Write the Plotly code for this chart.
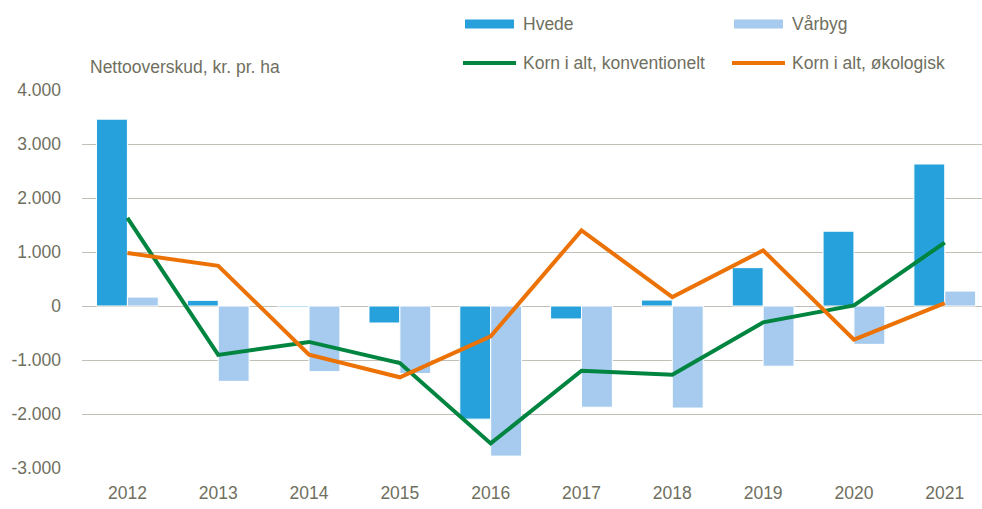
import plotly.graph_objects as go

years = ["2012", "2013", "2014", "2015", "2016", "2017", "2018", "2019", "2020", "2021"]
hvede = [3460, 105, -20, -315, -2095, -240, 110, 710, 1385, 2630]
vaarbyg = [165, -1395, -1215, -1250, -2780, -1875, -1890, -1115, -710, 277]
konv = [1630, -906, -665, -1055, -2545, -1200, -1275, -303, 10, 1175]
oeko = [980, 745, -900, -1320, -560, 1400, 165, 1030, -623, 55]

y_tickvals = [-3000, -2000, -1000, 0, 1000, 2000, 3000, 4000]
y_ticktext = ["-3.000", "-2.000", "-1.000", "0", "1.000", "2.000", "3.000", "4.000"]

names = ["Hvede", "Vårbyg", "Korn i alt, konventionelt", "Korn i alt, økologisk"]
colors = ["#26a1db", "#a6cbee", "#008540", "#ec7205"]
ytitle = "Nettooverskud, kr. pr. ha"

FONT = "Liberation Sans, Arial, sans-serif"
TXT = "#6f6f60"
FS = 17.5

fig = go.Figure()
fig.add_trace(go.Bar(x=years, y=hvede, name=names[0], marker=dict(color=colors[0], line=dict(color="white", width=1))))
fig.add_trace(go.Bar(x=years, y=vaarbyg, name=names[1], marker=dict(color=colors[1], line=dict(color="white", width=1))))
fig.add_trace(go.Scatter(x=years, y=konv, name=names[2], mode="lines", line=dict(color=colors[2], width=4)))
fig.add_trace(go.Scatter(x=years, y=oeko, name=names[3], mode="lines", line=dict(color=colors[3], width=4)))

L, R, T, B = 82, 0, 90, 41
W, H = 982, 509
pw = W - L - R
ph = H - T - B

def px(x):
    return (x - L) / pw

def py(y):
    return (H - B - y) / ph

shapes = []
annotations = []
# custom legend
leg = [
    (465, 514, 24, "rect", 0, 521),
    (734, 783, 24, "rect", 1, 790),
    (463, 516, 63, "line", 2, 521),
    (732, 785, 63, "line", 3, 790),
]
for x0, x1, yc, kind, i, tx in leg:
    if kind == "rect":
        shapes.append(dict(type="rect", xref="paper", yref="paper", x0=px(x0), x1=px(x1),
                           y0=py(yc + 4.5), y1=py(yc - 4.5), fillcolor=colors[i], line=dict(width=0)))
    else:
        shapes.append(dict(type="line", xref="paper", yref="paper", x0=px(x0), x1=px(x1),
                           y0=py(yc), y1=py(yc), line=dict(color=colors[i], width=4)))
    annotations.append(dict(xref="paper", yref="paper", x=px(tx), y=py(yc), xanchor="left", yanchor="middle",
                            text=names[i], showarrow=False, font=dict(family=FONT, size=FS, color=TXT)))

annotations.append(dict(xref="paper", yref="paper", x=px(88), y=py(67), xanchor="left", yanchor="middle",
                        text=ytitle, showarrow=False, font=dict(family=FONT, size=FS, color=TXT)))

fig.update_layout(
    width=W, height=H,
    margin=dict(l=L, r=R, t=T, b=B, pad=0),
    plot_bgcolor="white", paper_bgcolor="white",
    barmode="group", bargap=0.32, bargroupgap=0,
    showlegend=False,
    shapes=shapes, annotations=annotations,
    font=dict(family=FONT, size=FS, color=TXT),
)
fig.update_xaxes(type="category", range=[-0.5, 9.41], showgrid=False, showline=False, zeroline=False,
                 ticks="", ticklabelstandoff=12, tickfont=dict(family=FONT, size=FS, color=TXT))
fig.update_yaxes(range=[-3000, 4000], tickvals=y_tickvals, ticktext=y_ticktext, showgrid=True,
                 gridcolor="#c2c0b6", gridwidth=1.3, zeroline=True, zerolinecolor="#c2c0b6", zerolinewidth=1.3,
                 showline=False, ticks="", ticklabelstandoff=20, tickfont=dict(family=FONT, size=FS, color=TXT))

fig.write_html("out.html", config={"displayModeBar": False},
               post_script="document.body.style.margin='0';document.body.style.overflow='hidden';")
